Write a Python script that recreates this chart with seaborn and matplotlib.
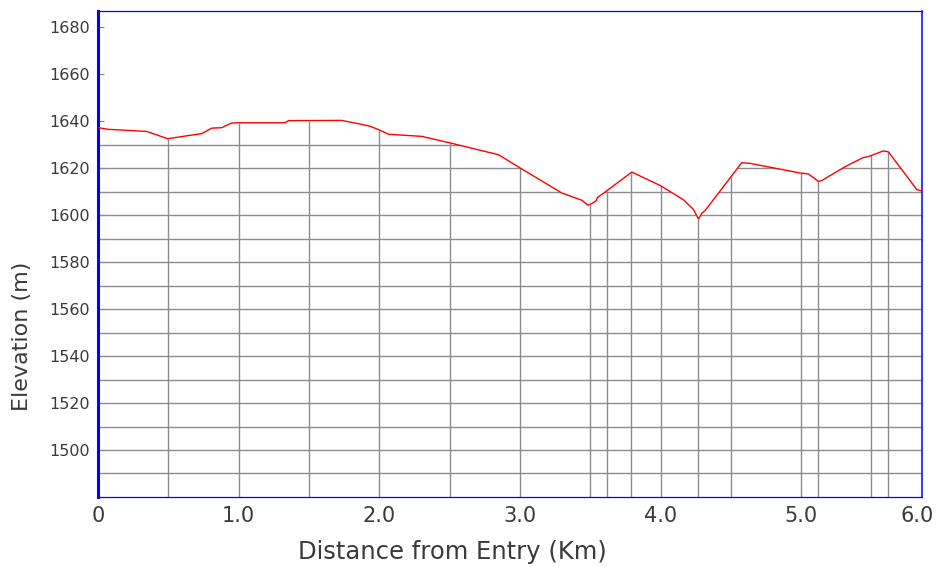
import numpy as np
import matplotlib.pyplot as plt
import seaborn as sns
from matplotlib.patches import Polygon

#  Elevation profile data
dist_km = [0, 0.073, 0.346, 0.496, 0.738, 0.809, 0.88, 0.95, 1.01, 1.33, 1.354,
           1.733, 1.851, 1.935, 2.006, 2.065, 2.302, 2.504, 2.847, 3.0, 3.298,
           3.44, 3.483, 3.511, 3.542, 3.551, 3.622, 3.796, 4.0, 4.068, 4.163,
           4.235, 4.27, 4.294, 4.317, 4.578, 4.637, 4.993, 5.052, 5.123, 5.147,
           5.313, 5.443, 5.474, 5.585, 5.621, 5.823, 5.86]
elev_m = [1637.3, 1636.6, 1635.7, 1632.6, 1634.8, 1637.1, 1637.3, 1639.3, 1639.4,
          1639.4, 1640.3, 1640.4, 1639.0, 1637.9, 1636.2, 1634.5, 1633.6, 1630.8,
          1625.8, 1620.2, 1609.5, 1606.4, 1604.3, 1605.0, 1606.1, 1607.5, 1610.6,
          1618.4, 1612.6, 1610.1, 1606.6, 1602.4, 1598.4, 1600.9, 1602.0, 1622.4,
          1622.1, 1618.0, 1617.6, 1614.4, 1614.8, 1620.7, 1624.6, 1624.9, 1627.4,
          1627.0, 1610.9, 1610.3]

# stations where a vertical line drops from the profile
drop_km = [0.5, 1.0, 1.5, 2.0, 2.5, 3.0, 3.5, 3.62, 3.79, 4.0, 4.27, 4.5,
           5.0, 5.12, 5.5, 5.62]
grid_levels = list(range(1490, 1640, 10))
ytick_vals = list(range(1500, 1700, 20))
xtick_vals = [0, 1, 2, 3, 4, 5]
xtick_labels = ['0', '1.0', '2.0', '3.0', '4.0', '5.0']

sns.set_theme(style="white")
plt.rcParams['font.family'] = ['DejaVu Sans']
txt = '#3a3a3a'
grid_c = '#8c8c8c'
blue = '#0000ff'

fig = plt.figure(figsize=(9.38, 5.67), dpi=100)
ax = fig.add_axes([0.1045, 0.1235, 0.8785, 0.8571])

y_min, y_max = 1480, 1687
x_max = dist_km[-1]

# area under the profile, used to clip the horizontal grid
poly = Polygon(list(zip(dist_km, elev_m)) + [(x_max, y_min), (0, y_min)],
               closed=True, facecolor='none', edgecolor='none')
ax.add_patch(poly)
hl = ax.hlines(grid_levels, 0, x_max, colors=grid_c, linewidth=1, zorder=1)
hl.set_clip_path(poly)

drop_top = np.interp(drop_km, dist_km, elev_m)
ax.vlines(drop_km, y_min, drop_top, colors=grid_c, linewidth=1, zorder=1)

sns.lineplot(x=dist_km, y=elev_m, color='red', linewidth=1, ax=ax, zorder=3)

ax.set_xlim(0, x_max)
ax.set_ylim(y_min, y_max)
ax.set_yticks(ytick_vals)
ax.set_xticks(xtick_vals)
ax.set_xticklabels(xtick_labels)
ax.tick_params(axis='y', direction='in', length=4, width=0.8, color='#808080',
               labelsize=11.5, labelcolor=txt, pad=5.8, left=True)
ax.tick_params(axis='x', length=0, labelsize=15, labelcolor=txt, pad=6.5)
ax.annotate('6.0', xy=(0.994, 0), xycoords='axes fraction', xytext=(0, -6.5),
            textcoords='offset points', ha='center', va='top', fontsize=15, color=txt)
ax.set_xlabel('')
ax.set_ylabel('')

for side, lw in [('left', 2.2), ('bottom', 0.9), ('top', 0.9), ('right', 1.1)]:
    ax.spines[side].set_color(blue)
    ax.spines[side].set_linewidth(lw)
    ax.spines[side].set_visible(True)

fig.text(452 / 938, 1 - 552 / 567, 'Distance from Entry (Km)', ha='center',
         va='center', fontsize=17.5, color=txt)
fig.text(22 / 938, 1 - 336 / 567, 'Elevation (m)', ha='center', va='center',
         rotation=90, fontsize=16, color=txt)

fig.savefig('out.png', dpi=100)
